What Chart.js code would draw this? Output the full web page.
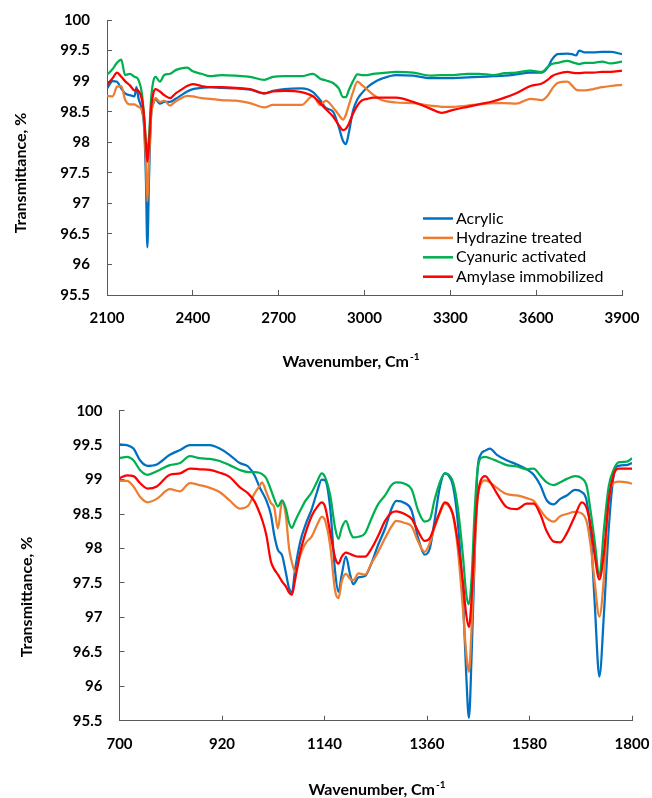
<!DOCTYPE html>
<html>
<head>
<meta charset="utf-8">
<script src="https://cdn.jsdelivr.net/npm/chart.js@4.4.1/dist/chart.umd.min.js"></script>
<style>
    body { margin: 0; background: #fff; }
    #wrap { position: relative; width: 652px; height: 798px; }
    canvas { position: absolute; left: 0; }
    #topChart { top: 0; }
    #bottomChart { top: 390px; }
</style>
</head>
<body>
<div id="wrap">
    <canvas id="topChart" width="652" height="390"></canvas>
    <canvas id="bottomChart" width="652" height="408"></canvas>
</div>
<script>
const seriesNames = ['Acrylic', 'Hydrazine treated', 'Cyanuric activated', 'Amylase immobilized'];
const seriesColors = ['#0070C0', '#ED7D31', '#00B050', '#FF0000'];

const yTicks = [95.5, 96, 96.5, 97, 97.5, 98, 98.5, 99, 99.5, 100];
const topXTicks = [2100, 2400, 2700, 3000, 3300, 3600, 3900];
const bottomXTicks = [700, 920, 1140, 1360, 1580, 1800];

const xTitle = 'Wavenumber, Cm';
const xTitleSup = '-1';
const yTitle = 'Transmittance, %';

// upper spectrum, 2100-3900 cm-1
const topWave = [
    2100, 2120, 2135, 2150, 2163, 2180, 2196, 2203, 2210, 2222,
    2230, 2236, 2241, 2247, 2254, 2262, 2270, 2285, 2300, 2320,
    2340, 2360, 2380, 2400, 2430, 2460, 2500, 2550, 2600, 2650,
    2680, 2720, 2780, 2820, 2845, 2865, 2890, 2910, 2925, 2935,
    2945, 2960, 2975, 2990, 3010, 3030, 3060, 3110, 3170, 3230,
    3270, 3310, 3360, 3400, 3450, 3490, 3530, 3580, 3620, 3640,
    3655, 3675, 3710, 3725, 3740, 3750, 3770, 3800, 3830, 3860, 3900
];
const topAcrylic = [
    98.88, 99.0, 98.99, 98.88, 98.8, 98.77, 98.75, 98.9, 98.72, 98.53,
    98.22, 97.4, 96.28, 97.44, 98.42, 98.64, 98.70, 98.63, 98.66, 98.66,
    98.71, 98.77, 98.83, 98.87, 98.89, 98.9, 98.89, 98.88, 98.86, 98.8,
    98.84, 98.87, 98.88, 98.82, 98.69, 98.56, 98.5, 98.25, 98.02, 97.97,
    98.15, 98.52, 98.7, 98.8, 98.9, 98.97, 99.04, 99.1, 99.09, 99.05,
    99.05, 99.05, 99.06, 99.07, 99.08, 99.09, 99.11, 99.14, 99.14, 99.22,
    99.35, 99.44, 99.45, 99.44, 99.42, 99.5, 99.47, 99.47, 99.48, 99.48, 99.44
];
const topHydrazine = [
    98.76, 98.75, 98.91, 98.92, 98.7, 98.62, 98.62, 98.6, 98.58, 98.52,
    98.3, 97.7, 97.03, 97.71, 98.42, 98.64, 98.72, 98.66, 98.68, 98.6,
    98.67, 98.72, 98.76, 98.75, 98.72, 98.71, 98.69, 98.68, 98.64, 98.57,
    98.61, 98.61, 98.61, 98.76, 98.61, 98.68, 98.57, 98.45, 98.37, 98.45,
    98.6, 98.82, 98.99, 98.94, 98.86, 98.78, 98.69, 98.65, 98.64, 98.6,
    98.58, 98.58, 98.6, 98.62, 98.64, 98.64, 98.63, 98.71, 98.69, 98.76,
    98.87, 98.97, 98.99, 98.93, 98.86, 98.85, 98.85, 98.87, 98.9, 98.92, 98.94
];
const topCyanuric = [
    99.1, 99.2, 99.3, 99.35, 99.1, 99.12, 99.07, 99.06, 99.02, 98.8,
    98.4, 98.0, 97.85, 98.1, 98.7, 99.0, 99.07, 98.99, 99.1, 99.12,
    99.18, 99.21, 99.22, 99.16, 99.12, 99.08, 99.1, 99.09, 99.07, 99.02,
    99.07, 99.08, 99.08, 99.12, 99.04, 99.01, 98.97, 98.88, 98.74, 98.74,
    98.85, 99.0, 99.11, 99.1, 99.1, 99.12, 99.13, 99.15, 99.14, 99.09,
    99.1, 99.1, 99.12, 99.12, 99.1, 99.13, 99.14, 99.17, 99.15, 99.23,
    99.28, 99.3, 99.33, 99.31, 99.29, 99.28, 99.3, 99.3, 99.32, 99.29, 99.32
];
const topAmylase = [
    98.94, 99.05, 99.14, 99.07, 99.0, 98.93, 98.85, 98.86, 98.84, 98.7,
    98.4, 97.97, 97.68, 97.98, 98.55, 98.8, 98.87, 98.83, 98.77, 98.72,
    98.8, 98.86, 98.92, 98.95, 98.92, 98.9, 98.9, 98.89, 98.87, 98.8,
    98.83, 98.84, 98.82, 98.75, 98.64, 98.54, 98.42, 98.28, 98.2, 98.22,
    98.3, 98.47, 98.6, 98.68, 98.71, 98.73, 98.73, 98.73, 98.66, 98.55,
    98.48, 98.53, 98.58, 98.62, 98.67, 98.73, 98.8, 98.92, 98.96, 99.02,
    99.08, 99.12, 99.15, 99.14, 99.13, 99.13, 99.14, 99.14, 99.15, 99.15, 99.17
];

// lower spectrum, 700-1800 cm-1
const bottomWave = [
    700, 716, 730, 744, 760, 780, 808, 830, 851, 872,
    894, 915, 936, 958, 976, 990, 1000, 1006, 1015, 1025,
    1032, 1040, 1049, 1057, 1064, 1070, 1077, 1088, 1099, 1113,
    1124, 1134, 1141, 1152, 1163, 1170, 1177, 1186, 1195, 1202,
    1213, 1227, 1241, 1255, 1270, 1284, 1294, 1312, 1327, 1341,
    1355, 1366, 1376, 1387, 1398, 1405, 1416, 1426, 1437, 1444,
    1450, 1456, 1462, 1468, 1475, 1485, 1495, 1510, 1531, 1553,
    1574, 1589, 1603, 1617, 1632, 1646, 1660, 1678, 1692, 1703,
    1712, 1720, 1730, 1740, 1750, 1761, 1771, 1789, 1800
];
const bottomAcrylic = [
    99.51, 99.5, 99.45, 99.28, 99.2, 99.22, 99.36, 99.43, 99.5, 99.5,
    99.5, 99.45, 99.36, 99.24, 99.19, 99.06, 98.9, 98.82, 98.7, 98.49,
    98.2, 97.98, 97.9, 97.65, 97.42, 97.36, 97.7, 98.1, 98.34, 98.58,
    98.82, 99.0, 98.99, 98.6, 97.65, 97.37, 97.62, 97.88, 97.62, 97.48,
    97.58, 97.6, 97.79, 98.05, 98.29, 98.58, 98.69, 98.66, 98.55, 98.15,
    97.91, 98.0, 98.39, 98.87, 99.09, 99.07, 98.9, 98.39, 97.32, 96.2,
    95.54, 96.5, 97.8, 99.1, 99.36, 99.42, 99.45, 99.36, 99.28, 99.22,
    99.15, 99.07, 98.92, 98.7, 98.64, 98.72, 98.77, 98.85, 98.82, 98.68,
    98.15, 97.2, 96.14, 97.08, 98.29, 99.07, 99.2, 99.21, 99.24
];
const bottomHydrazine = [
    98.98, 98.98, 98.9, 98.75, 98.67, 98.72, 98.86, 98.83, 98.95, 98.92,
    98.88, 98.82, 98.7, 98.58, 98.62, 98.8, 98.9, 98.96, 98.82, 98.66,
    98.6, 98.29, 98.68, 98.48, 98.0, 97.8, 97.66, 97.9, 98.07, 98.18,
    98.34, 98.46, 98.41, 98.05, 97.38, 97.28, 97.52, 97.63, 97.56, 97.54,
    97.64, 97.62, 97.79, 97.95, 98.15, 98.32, 98.4, 98.37, 98.32, 98.1,
    97.95, 98.08, 98.3, 98.5, 98.65, 98.63, 98.47, 98.0, 97.13, 96.5,
    96.21, 96.9, 97.9, 98.68, 98.93, 98.99, 98.96, 98.88, 98.79, 98.77,
    98.73, 98.69, 98.56, 98.44, 98.39, 98.47, 98.5, 98.53, 98.51, 98.38,
    98.0, 97.5, 97.01, 97.6, 98.7, 98.95, 98.97, 98.96, 98.94
];
const bottomCyanuric = [
    99.31, 99.33, 99.28, 99.14, 99.07, 99.12, 99.21, 99.24, 99.34, 99.31,
    99.3, 99.27, 99.21, 99.14, 99.11, 99.11, 99.1, 99.08, 99.02, 98.85,
    98.72, 98.61, 98.70, 98.58, 98.37, 98.3, 98.4, 98.55, 98.69, 98.82,
    98.97, 99.09, 99.04, 98.78, 98.29, 98.14, 98.3, 98.4, 98.24, 98.16,
    98.17, 98.22, 98.44, 98.64, 98.77, 98.92, 98.96, 98.94, 98.86, 98.55,
    98.39, 98.42, 98.7, 98.95, 99.09, 99.08, 98.96, 98.6, 97.9, 97.35,
    97.19, 97.6, 98.5, 99.1, 99.31, 99.33, 99.31, 99.27, 99.21, 99.19,
    99.15, 99.16, 99.06, 98.96, 98.92, 98.96, 99.01, 99.05, 99.02, 98.9,
    98.5, 98.1, 97.6, 98.3, 98.9, 99.15, 99.25, 99.26, 99.31
];
const bottomAmylase = [
    99.02, 99.06, 99.05, 98.95, 98.87, 98.9, 99.07, 99.09, 99.16, 99.15,
    99.14, 99.1, 99.04, 98.89, 98.8, 98.68, 98.53, 98.42, 98.2, 97.81,
    97.7, 97.62, 97.52, 97.45, 97.36, 97.33, 97.55, 97.95, 98.22, 98.48,
    98.6, 98.67, 98.61, 98.24, 97.86, 97.78, 97.88, 97.94, 97.92, 97.9,
    97.88, 97.88, 98.0, 98.18, 98.4, 98.52, 98.54, 98.5, 98.43, 98.25,
    98.11, 98.15, 98.32, 98.52, 98.67, 98.65, 98.49, 98.1, 97.52, 97.05,
    96.86, 97.3, 98.1, 98.7, 98.98, 99.05, 98.97, 98.8, 98.6, 98.57,
    98.65, 98.65, 98.5, 98.25, 98.1, 98.09, 98.22, 98.48, 98.67, 98.58,
    98.3, 97.9, 97.55, 97.95, 98.7, 99.08, 99.16, 99.16, 99.16
];

const axisColor = '#595959';
const tickFont = { family: 'Lato', size: 15, weight: 'bold' };
const titleFont = 'bold 16px Lato';
const supFont = 'bold 10px Lato';

// axis titles drawn by hand so they can sit where the original puts them
const axisTitles = {
    id: 'axisTitles',
    afterDraw(chart, args, opts) {
        const ctx = chart.ctx;
        ctx.save();
        ctx.fillStyle = '#000';
        ctx.textBaseline = 'middle';

        ctx.font = titleFont;
        const mainW = ctx.measureText(opts.xText).width;
        ctx.font = supFont;
        const supW = ctx.measureText(opts.xSup).width;
        const x0 = opts.xPos[0] - (mainW + supW + 1) / 2;
        ctx.textAlign = 'left';
        ctx.font = titleFont;
        ctx.fillText(opts.xText, x0, opts.xPos[1]);
        ctx.font = supFont;
        ctx.fillText(opts.xSup, x0 + mainW + 1, opts.xPos[1] - 5);

        ctx.translate(opts.yPos[0], opts.yPos[1]);
        ctx.rotate(-Math.PI / 2);
        ctx.font = titleFont;
        ctx.textAlign = 'center';
        ctx.fillText(opts.yText, 0, 0);
        ctx.restore();
    }
};

// legend box inside the plot, like the spreadsheet one
const insideLegend = {
    id: 'insideLegend',
    afterDraw(chart, args, opts) {
        if (!opts.show) return;
        const ctx = chart.ctx;
        ctx.save();
        ctx.font = '16px Lato';
        ctx.textBaseline = 'middle';
        ctx.textAlign = 'left';
        chart.data.datasets.forEach((ds, i) => {
            const y = opts.top + i * opts.rowGap;
            ctx.strokeStyle = ds.borderColor;
            ctx.lineWidth = 2.5;
            ctx.beginPath();
            ctx.moveTo(opts.left, y);
            ctx.lineTo(opts.left + opts.lineLen, y);
            ctx.stroke();
            ctx.fillStyle = '#000';
            ctx.fillText(ds.label, opts.left + opts.lineLen + 3, y);
        });
        ctx.restore();
    }
};

function makeChart(id, wave, series, xTicks, box, titles, legend) {
    const datasets = series.map((vals, i) => ({
        label: seriesNames[i],
        data: wave.map((w, j) => ({ x: w, y: vals[j] })),
        borderColor: seriesColors[i],
        backgroundColor: seriesColors[i],
        borderWidth: 2.25,
        pointRadius: 0,
        cubicInterpolationMode: 'monotone',
        order: series.length - i
    }));

    return new Chart(document.getElementById(id), {
        type: 'line',
        data: { datasets },
        plugins: [axisTitles, insideLegend],
        options: {
            responsive: false,
            animation: false,
            devicePixelRatio: 1,
            layout: { padding: box.padding },
            plugins: {
                legend: { display: false },
                tooltip: { enabled: false },
                axisTitles: titles,
                insideLegend: legend
            },
            scales: {
                x: {
                    type: 'linear',
                    min: xTicks[0],
                    max: xTicks[xTicks.length - 1],
                    afterBuildTicks: s => { s.ticks = xTicks.map(v => ({ value: v })); },
                    // fixed box, and no extra margin from the label padding
                    afterFit: s => {
                        s.height = box.xHeight;
                        s.paddingLeft = 0;
                        s.paddingRight = 0;
                    },
                    grid: { drawOnChartArea: false, tickLength: -5, color: axisColor },
                    border: { color: axisColor, width: 1 },
                    ticks: {
                        padding: 19, color: '#000', font: tickFont,
                        autoSkip: false, maxRotation: 0,
                        callback: v => String(v)
                    }
                },
                y: {
                    min: yTicks[0],
                    max: yTicks[yTicks.length - 1],
                    afterBuildTicks: s => { s.ticks = yTicks.map(v => ({ value: v })); },
                    afterFit: s => {
                        s.width = box.yWidth;
                        s.paddingTop = 0;
                        s.paddingBottom = 0;
                    },
                    grid: { drawOnChartArea: false, tickLength: -5, color: axisColor },
                    border: { color: axisColor, width: 1 },
                    ticks: {
                        padding: 22, color: '#000', font: tickFont,
                        autoSkip: false,
                        callback: v => String(v)
                    }
                }
            }
        }
    });
}

makeChart('topChart', topWave,
    [topAcrylic, topHydrazine, topCyanuric, topAmylase], topXTicks,
    { padding: { left: 0, top: 20, right: 30, bottom: 0 }, yWidth: 107, xHeight: 95 },
    { xText: xTitle, xSup: xTitleSup, xPos: [351, 362], yText: yTitle, yPos: [21, 173] },
    { show: true, left: 423, top: 218.5, rowGap: 19.4, lineLen: 30 });

makeChart('bottomChart', bottomWave,
    [bottomAcrylic, bottomHydrazine, bottomCyanuric, bottomAmylase], bottomXTicks,
    { padding: { left: 0, top: 20.7, right: 20, bottom: 0 }, yWidth: 119.5, xHeight: 77.3 },
    { xText: xTitle, xSup: xTitleSup, xPos: [377, 400], yText: yTitle, yPos: [27, 207] },
    { show: false });
</script>
</body>
</html>
